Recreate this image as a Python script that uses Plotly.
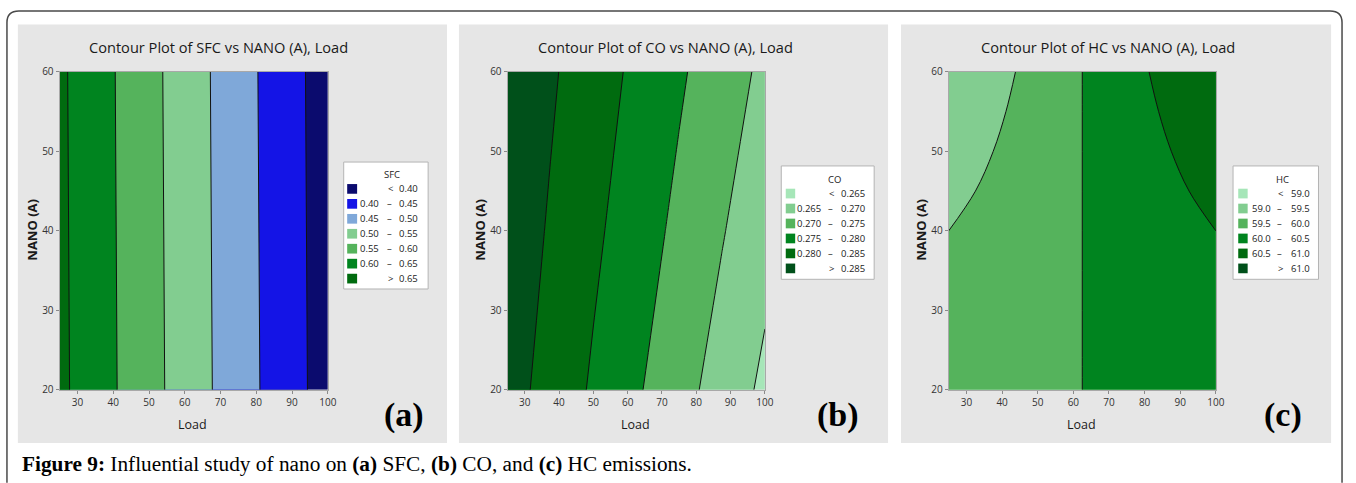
import plotly.graph_objects as go

W, H = 1356, 483

# ---------------- data ----------------
load_sfc = [25, 50, 75, 100]
nano_sfc = [20, 60]
sfc = [
    [0.6605, 0.5665, 0.4726, 0.3786],   # NANO = 20
    [0.6585, 0.5645, 0.4705, 0.3765],   # NANO = 60
]
sfc_levels = [0.40, 0.45, 0.50, 0.55, 0.60, 0.65]

load_co = [25, 37.5, 50, 62.5, 75, 87.5, 100]
nano_co = [20, 40, 60]
co = [
    [0.28702, 0.28319, 0.27937, 0.27560, 0.27182, 0.26794, 0.26399],
    [0.28806, 0.28450, 0.28094, 0.27740, 0.27386, 0.27031, 0.26663],
    [0.28896, 0.28564, 0.28231, 0.27899, 0.27566, 0.27233, 0.26898],
]
co_levels = [0.265, 0.270, 0.275, 0.280, 0.285]

load_hc = [25, 37.5, 50, 60, 65, 75, 87.5, 100]
nano_hc = [20, 25, 30, 35, 40, 45, 50, 55, 60]
hc = [
    [59.990, 59.990, 59.990, 59.990, 60.010, 60.010, 60.010, 60.010],
    [59.875, 59.917, 59.958, 59.992, 60.008, 60.042, 60.083, 60.125],
    [59.750, 59.833, 59.917, 59.983, 60.017, 60.083, 60.167, 60.250],
    [59.625, 59.750, 59.875, 59.975, 60.025, 60.125, 60.250, 60.375],
    [59.500, 59.667, 59.833, 59.967, 60.033, 60.167, 60.333, 60.500],
    [59.375, 59.583, 59.792, 59.958, 60.042, 60.208, 60.417, 60.625],
    [59.250, 59.500, 59.750, 59.950, 60.050, 60.250, 60.500, 60.750],
    [59.125, 59.417, 59.708, 59.942, 60.058, 60.292, 60.583, 60.875],
    [59.010, 59.333, 59.667, 59.933, 60.067, 60.333, 60.667, 60.990],
]
hc_levels = [59.0, 59.5, 60.0, 60.5, 61.0]

x_ticks = [30, 40, 50, 60, 70, 80, 90, 100]
y_ticks = [20, 30, 40, 50, 60]

sfc_legend = ["<  0.40", "0.40 – 0.45", "0.45 – 0.50", "0.50 – 0.55",
              "0.55 – 0.60", "0.60 – 0.65", ">  0.65"]
co_legend = ["<  0.265", "0.265 – 0.270", "0.270 – 0.275", "0.275 – 0.280",
             "0.280 – 0.285", ">  0.285"]
hc_legend = ["<  59.0", "59.0 – 59.5", "59.5 – 60.0", "60.0 – 60.5",
             "60.5 – 61.0", ">  61.0"]

# band colours, ascending z
sfc_colors = ["#0b0b6e", "#1414e6", "#7fa8d9", "#82cd90", "#55b35c", "#00841f", "#006b0f"]
green_colors = ["#a6e6b8", "#82cd90", "#55b35c", "#00841f", "#006b0f", "#00501a"]

# ---------------- helpers ----------------
def fx(x):
    return x / W

def fy(y):
    return 1 - y / H

def step_scale(colors):
    n = len(colors) - 1
    sc = []
    for k, c in enumerate(colors):
        lo = max(0.0, (k - 0.5) / n)
        hi = min(1.0, (k + 0.5) / n)
        sc.append([lo, c])
        sc.append([hi, c])
    return sc

FONT = "Open Sans"
SERIF = "Liberation Serif"

fig = go.Figure()

panels = [
    dict(x=load_sfc, y=nano_sfc, z=sfc, lv=sfc_levels, cols=sfc_colors, smooth=0),
    dict(x=load_co, y=nano_co, z=co, lv=co_levels, cols=green_colors, smooth=0),
    dict(x=load_hc, y=nano_hc, z=hc, lv=hc_levels, cols=green_colors, smooth=1.0),
]
suffix = ["", "2", "3"]
for i, p in enumerate(panels):
    size = round(p["lv"][1] - p["lv"][0], 6)
    fig.add_trace(go.Contour(
        x=p["x"], y=p["y"], z=p["z"],
        xaxis="x" + suffix[i], yaxis="y" + suffix[i],
        autocontour=False,
        contours=dict(start=p["lv"][0], end=p["lv"][-1], size=size, coloring="fill"),
        colorscale=step_scale(p["cols"]),
        showscale=False,
        line=dict(color="#111111", width=1, smoothing=p["smooth"]),
        hoverinfo="skip",
    ))

x_dom = [(60, 330), (511, 770), (955, 1224)]
y_dom = [fy(394), fy(66)]
layout_axes = {}
for i, (a, b) in enumerate(x_dom):
    xa = "xaxis" + suffix[i]
    ya = "yaxis" + suffix[i]
    layout_axes[xa] = dict(
        domain=[fx(a), fx(b)], range=[25, 100], anchor="y" + suffix[i],
        tickvals=x_ticks, ticks="outside", ticklen=3, tickcolor="#8a8a8a",
        showline=True, mirror=True, linecolor="#a8a8a8", linewidth=1,
        showgrid=False, zeroline=False,
        tickfont=dict(family=FONT, size=10, color="#333333"),
    )
    layout_axes[ya] = dict(
        domain=y_dom, range=[20, 60], anchor="x" + suffix[i],
        tickvals=y_ticks, ticks="outside", ticklen=3, tickcolor="#8a8a8a",
        showline=True, mirror=True, linecolor="#a8a8a8", linewidth=1,
        showgrid=False, zeroline=False,
        tickfont=dict(family=FONT, size=10, color="#333333"),
    )

shapes = []
annotations = []

# outer rounded frame
r = 12
fl, ft, fr, fb = 7, 3, 1351, 490
path = (f"M {fx(fl)},{fy(fb)} L {fx(fl)},{fy(ft + r)} Q {fx(fl)},{fy(ft)} {fx(fl + r)},{fy(ft)} "
        f"L {fx(fr - r)},{fy(ft)} Q {fx(fr)},{fy(ft)} {fx(fr)},{fy(ft + r)} L {fx(fr)},{fy(fb)}")
shapes.append(dict(type="path", xref="paper", yref="paper", path=path,
                   line=dict(color="#4a4a4a", width=1.5), layer="below"))

# grey panel backgrounds
for (a, b) in [(18, 450), (462, 894), (907, 1340)]:
    shapes.append(dict(type="rect", xref="paper", yref="paper",
                       x0=fx(a), x1=fx(b), y0=fy(449), y1=fy(17),
                       fillcolor="#e6e6e6", line=dict(width=0), layer="below"))

titles = ["Contour Plot of SFC vs NANO (A), Load",
          "Contour Plot of CO vs NANO (A), Load",
          "Contour Plot of HC vs NANO (A), Load"]
title_x = [220, 670, 1115]
load_x = [194, 640, 1089]
nano_x = [32, 483, 927]
lab_x = [407, 844, 1292]
labels = ["(a)", "(b)", "(c)"]
for i in range(3):
    annotations.append(dict(text=titles[i], x=fx(title_x[i]), y=fy(40), xref="paper", yref="paper",
                            showarrow=False, xanchor="center", yanchor="middle",
                            font=dict(family=FONT, size=14.6, color="#1a1a1a")))
    annotations.append(dict(text="Load", x=fx(load_x[i]), y=fy(430), xref="paper", yref="paper",
                            showarrow=False, xanchor="center", yanchor="middle",
                            font=dict(family=FONT, size=12.5, color="#1a1a1a")))
    annotations.append(dict(text="<b>NANO (A)</b>", x=fx(nano_x[i]), y=fy(229), xref="paper", yref="paper",
                            showarrow=False, xanchor="center", yanchor="middle", textangle=-90,
                            font=dict(family=FONT, size=13, color="#1a1a1a")))
    annotations.append(dict(text="<b>" + labels[i] + "</b>", x=fx(lab_x[i]), y=fy(420), xref="paper", yref="paper",
                            showarrow=False, xanchor="center", yanchor="middle",
                            font=dict(family=SERIF, size=34, color="#000000")))

# legends
legends = [
    dict(name="SFC", items=sfc_legend, cols=list(sfc_colors), box=(346, 159, 431, 290),
         row0=186.7, dy=15.43, sw=(349.5, 359.5), lnum=384, dash=392.5, rnum=423, tx=394.5),
    dict(name="CO", items=co_legend, cols=list(green_colors), box=(786.5, 163, 880, 280),
         row0=191.5, dy=15.45, sw=(791, 800.5), lnum=828, dash=836, rnum=872.5, tx=840),
    dict(name="HC", items=hc_legend, cols=list(green_colors), box=(1241.3, 163, 1327.3, 280),
         row0=191.5, dy=15.45, sw=(1246.5, 1256), lnum=1281.5, dash=1288.5, rnum=1321, tx=1291),
]
LF = dict(family=FONT, size=9.5, color="#222222")
for lg in legends:
    x0, y0, x1, y1 = lg["box"]
    shapes.append(dict(type="rect", xref="paper", yref="paper",
                       x0=fx(x0), x1=fx(x1), y0=fy(y1), y1=fy(y0),
                       fillcolor="#ffffff", line=dict(color="#b4b4b4", width=1)))
    annotations.append(dict(text=lg["name"], x=fx(lg["tx"]), y=fy(lg["row0"] - 14.5),
                            xref="paper", yref="paper", showarrow=False,
                            xanchor="center", yanchor="middle", font=LF))
    for k, (txt, col) in enumerate(zip(lg["items"], lg["cols"])):
        yc = lg["row0"] + k * lg["dy"]
        shapes.append(dict(type="rect", xref="paper", yref="paper",
                           x0=fx(lg["sw"][0]), x1=fx(lg["sw"][1]),
                           y0=fy(yc + 5), y1=fy(yc - 5),
                           fillcolor=col, line=dict(width=0)))
        if txt.startswith("<") or txt.startswith(">"):
            sym, val = txt[0], txt[1:].strip()
            annotations.append(dict(text=sym, x=fx(lg["dash"] + 1), y=fy(yc), xref="paper", yref="paper",
                                    showarrow=False, xanchor="center", yanchor="middle", font=LF))
            annotations.append(dict(text=val, x=fx(lg["rnum"]), y=fy(yc), xref="paper", yref="paper",
                                    showarrow=False, xanchor="right", yanchor="middle", font=LF))
        else:
            a, b = [s.strip() for s in txt.split("–")]
            annotations.append(dict(text=a, x=fx(lg["lnum"]), y=fy(yc), xref="paper", yref="paper",
                                    showarrow=False, xanchor="right", yanchor="middle", font=LF))
            annotations.append(dict(text="–", x=fx(lg["dash"]), y=fy(yc), xref="paper", yref="paper",
                                    showarrow=False, xanchor="center", yanchor="middle", font=LF))
            annotations.append(dict(text=b, x=fx(lg["rnum"]), y=fy(yc), xref="paper", yref="paper",
                                    showarrow=False, xanchor="right", yanchor="middle", font=LF))

# caption
annotations.append(dict(
    text="<b>Figure 9:</b> Influential study of nano on <b>(a)</b> SFC, <b>(b)</b> CO, and <b>(c)</b> HC emissions.",
    x=fx(20), y=fy(471), xref="paper", yref="paper", showarrow=False,
    xanchor="left", yanchor="middle", font=dict(family=SERIF, size=21.3, color="#000000")))

fig.update_layout(
    width=W, height=H,
    margin=dict(l=0, r=0, t=0, b=0),
    paper_bgcolor="#ffffff", plot_bgcolor="#e6e6e6",
    showlegend=False,
    shapes=shapes, annotations=annotations,
    **layout_axes,
)

fig.write_html("out.html", post_script="document.body.style.margin='0';",
               config={"displayModeBar": False})
